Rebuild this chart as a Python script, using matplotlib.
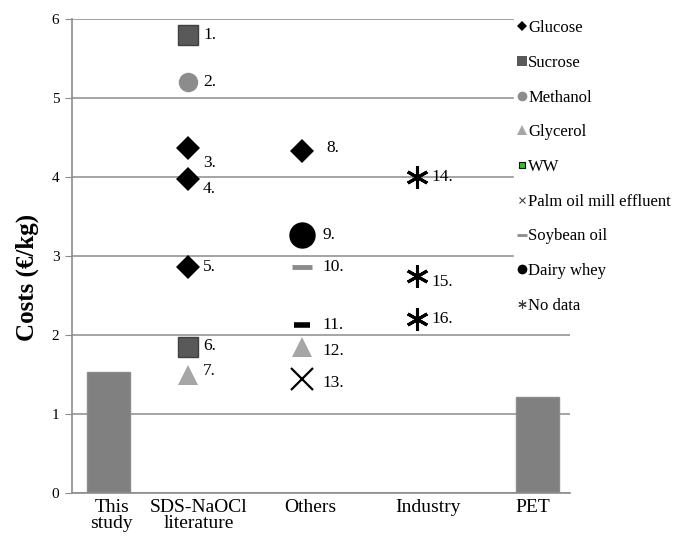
import matplotlib
matplotlib.use("Agg")
import matplotlib.pyplot as plt
from matplotlib.lines import Line2D

plt.rcParams['font.family'] = ['Liberation Serif', 'DejaVu Serif']

# Categories (x axis labels) and their positions
categories = ["This\nstudy", "SDS-NaOCl\nliterature", "Others", "Industry", "PET"]
cat_pos = [0.40, 1.27, 2.39, 3.57, 4.63]

# Bars
bar_names = ["This study", "PET"]
bar_x = [0.37, 4.67]
bar_vals = [1.53, 1.22]

# Scatter points: number, group x, value, substrate
pt_labels = ["1.", "2.", "3.", "4.", "5.", "6.", "7.", "8.", "9.", "10.", "11.", "12.", "13.", "14.", "15.", "16."]
pt_group = ["SDS", "SDS", "SDS", "SDS", "SDS", "SDS", "SDS",
            "Others", "Others", "Others", "Others", "Others", "Others",
            "Industry", "Industry", "Industry"]
pt_vals = [5.79, 5.20, 4.36, 3.97, 2.86, 1.85, 1.49,
           4.33, 3.26, 2.86, 2.12, 1.84, 1.44,
           4.00, 2.74, 2.20]
pt_type = ["Sucrose", "Methanol", "Glucose", "Glucose", "Glucose", "Sucrose", "Glycerol",
           "Glucose", "Dairy whey", "Soybean oil", "WW", "Glycerol", "Palm oil mill effluent",
           "No data", "No data", "No data"]
group_x = {"SDS": 1.165, "Others": 2.31, "Industry": 3.46}

legend_order = ["Glucose", "Sucrose", "Methanol", "Glycerol", "WW",
                "Palm oil mill effluent", "Soybean oil", "Dairy whey", "No data"]

styles = {
    "Glucose": dict(marker="D", ms=12, mfc="black", mec="black", mew=0),
    "Sucrose": dict(marker="s", ms=14, mfc="#595959", mec="#404040", mew=1),
    "Methanol": dict(marker="o", ms=14, mfc="#8c8c8c", mec="#8c8c8c", mew=0),
    "Glycerol": dict(marker="^", ms=15, mfc="#a6a6a6", mec="#a6a6a6", mew=0),
    "WW": dict(marker="_", ms=12, mfc="black", mec="black", mew=4),
    "Palm oil mill effluent": dict(marker="x", ms=16, mfc="black", mec="black", mew=1.6),
    "Soybean oil": dict(marker="_", ms=14, mfc="#8c8c8c", mec="#8c8c8c", mew=3.5),
    "Dairy whey": dict(marker="o", ms=19, mfc="black", mec="black", mew=0),
    "No data": dict(marker=(6, 2, 0), ms=16, mfc="black", mec="black", mew=2.2),
}
legend_styles = {
    "Glucose": dict(marker="D", ms=5, mfc="black", mec="black", mew=0),
    "Sucrose": dict(marker="s", ms=7, mfc="#595959", mec="#595959", mew=0),
    "Methanol": dict(marker="o", ms=7, mfc="#8c8c8c", mec="#8c8c8c", mew=0),
    "Glycerol": dict(marker="^", ms=7, mfc="#a6a6a6", mec="#a6a6a6", mew=0),
    "WW": dict(marker="s", ms=5, mfc="#22cc22", mec="black", mew=0.8, fillstyle="full"),
    "Palm oil mill effluent": dict(marker="x", ms=5, mfc="#404040", mec="#404040", mew=0.8),
    "Soybean oil": dict(marker="_", ms=7, mfc="#8c8c8c", mec="#8c8c8c", mew=2),
    "Dairy whey": dict(marker="o", ms=7, mfc="black", mec="black", mew=0),
    "No data": dict(marker=(6, 2, 0), ms=6, mfc="#404040", mec="#404040", mew=0.8),
}

fig = plt.figure(figsize=(6.91, 5.38), dpi=100)
ax = fig.add_axes([72 / 691, 45 / 538, 498 / 691, 474.5 / 538])

ax.bar(bar_x, bar_vals, width=0.43, color="#808080", edgecolor="#8c8c8c", linewidth=1, zorder=2)

label_offsets = {
    "1.": (15, 0), "2.": (15, 0), "3.": (15, -15), "4.": (15, -10), "5.": (15, 0),
    "6.": (15, 1), "7.": (15, 4), "8.": (24, 3), "9.": (20, 0), "10.": (20, 0),
    "11.": (20, 0), "12.": (20, -4), "13.": (20, -4), "14.": (15, 0), "15.": (15, -6),
    "16.": (15, 0),
}
for lab, g, v, t in zip(pt_labels, pt_group, pt_vals, pt_type):
    x = group_x[g]
    st = dict(styles[t])
    ax.plot([x], [v], linestyle="none", zorder=3, **st)
    dx, dy = label_offsets[lab]
    ax.annotate(lab, (x, v), xytext=(dx * 0.72, dy * 0.72), textcoords="offset points",
                ha="left", va="center", fontsize=12.5, color="black", zorder=4)

ax.set_xlim(0, 5)
ax.set_ylim(0, 6)
ax.set_yticks([0, 1, 2, 3, 4, 5, 6])
ax.set_yticklabels(["0", "1", "2", "3", "4", "5", "6"], fontsize=11)
ax.yaxis.grid(True, color="#8c8c8c", linewidth=1.1, zorder=0)
ax.set_axisbelow(True)
ax.tick_params(axis="y", length=5, color="#8c8c8c", pad=4)
ax.set_xticks(cat_pos)
ax.set_xticklabels(categories, fontsize=14, linespacing=0.95)
ax.tick_params(axis="x", length=0, pad=4)
for s in ["top", "right"]:
    ax.spines[s].set_visible(False)
ax.spines["left"].set_color("#8c8c8c")
ax.spines["left"].set_linewidth(1.2)
ax.spines["bottom"].set_color("#8c8c8c")
ax.spines["bottom"].set_linewidth(1.2)

ax.set_ylabel("Costs (€/kg)", fontsize=18, fontweight="bold")
ax.yaxis.set_label_coords(-0.066, 0.455)

handles = [Line2D([], [], linestyle="none", **legend_styles[n]) for n in legend_order]
leg = fig.legend(handles, legend_order, loc="upper left", bbox_to_anchor=(514 / 691, 1 - 17 / 538),
                 frameon=True, fontsize=12, labelspacing=1.12, handlelength=0.55,
                 handletextpad=0.1, borderpad=0.2, borderaxespad=0)
leg.get_frame().set_facecolor("white")
leg.get_frame().set_edgecolor("white")
leg.get_frame().set_alpha(1)
leg.set_zorder(10)

fig.savefig("out.png", dpi=100)
